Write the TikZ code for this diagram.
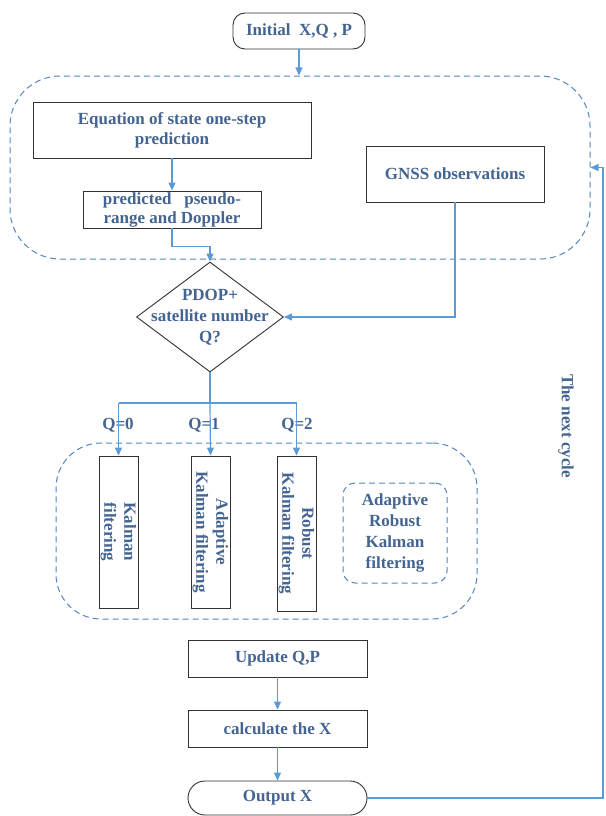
\documentclass[tikz,border=0pt]{standalone}
\usepackage{fontspec}
\setmainfont{Liberation Serif}
\usetikzlibrary{shapes.geometric,arrows.meta}
\definecolor{txt}{RGB}{68,100,145}
\definecolor{conn}{RGB}{91,155,213}
\definecolor{dashc}{RGB}{84,134,192}
\definecolor{bord}{RGB}{50,50,50}
\begin{document}
\begin{tikzpicture}[x=1pt,y=-1pt,
  every node/.style={font=\fontsize{17}{20}\selectfont\bfseries, text=txt, inner sep=0pt, align=center},
  box/.style={draw=bord, line width=0.9pt},
  dashreg/.style={draw=dashc, line width=1pt, dash pattern=on 6pt off 4pt},
  link/.style={draw=conn, line width=1.2pt},
  arr/.style={link, -{Triangle[length=8pt,width=7pt]}}]
\useasboundingbox (0,0) rectangle (605,816);
\fill[white] (0,0) rectangle (605,816);

% top
\node[box, rounded corners=12, minimum width=132, minimum height=36] (init) at (299,31) {Initial~~X,Q , P};
\node[dashreg, rounded corners=50, minimum width=580, minimum height=183] (big) at (300,167.5) {};
\node[box, minimum width=278, minimum height=56] (eq) at (172,130) {Equation of state one-step\\prediction};
\node[box, minimum width=178, minimum height=37, font=\fontsize{17}{19}\selectfont\bfseries] (pred) at (172,209.5) {predicted~~~pseudo-\\range and Doppler};
\node[box, minimum width=178, minimum height=56] (gnss) at (455,174) {GNSS observations};

% decision
\node[box, diamond, minimum width=147, minimum height=110,
  label={[font=\fontsize{17}{21}\selectfont\bfseries, align=center, text=txt]center:PDOP+\\satellite number\\Q?}] (dia) at (210,317) {};

% filters
\node[dashreg, rounded corners=45, minimum width=421, minimum height=176] (low) at (266.5,531) {};
\node[box, rotate=-90, minimum width=152, minimum height=39] (kal) at (118.5,532) {Kalman\\filtering};
\node[box, rotate=-90, minimum width=152, minimum height=39] (ada) at (210.5,532) {Adaptive\\Kalman filtering};
\node[box, rotate=-90, minimum width=155, minimum height=39] (rob) at (296.5,533.5) {Robust\\Kalman filtering};
\node[dashreg, rounded corners=12, minimum width=104, minimum height=100, font=\fontsize{17}{21}\selectfont\bfseries] (arkf) at (395,533) {Adaptive\\Robust\\Kalman\\filtering};

\node (q0) at (118,425) {Q=0};
\node (q1) at (204,425) {Q=1};
\node (q2) at (297,425) {Q=2};

% bottom
\node[box, minimum width=179, minimum height=37] (upd) at (277.5,658.5) {Update Q,P};
\node[box, minimum width=179, minimum height=37] (calc) at (277.5,728.5) {calculate the X};
\node[box, rounded corners=17, minimum width=179, minimum height=34] (out) at (277.5,798) {Output X};

\node[rotate=-90] (cyc) at (566,426) {The next cycle};

% connectors
\draw[arr] (init.south) -- (init.south |- big.north);
\draw[arr] (eq.south) -- (pred.north);
\draw[arr] (pred.south) -- ++(0,18) -| (dia.north);
\draw[arr] (gnss.south) |- (dia.east);
\coordinate (br) at (210,403);
\draw[link] (dia.south) -- (br);
\draw[link] (kal.west |- br) -- (rob.west |- br);
\draw[arr] (kal.west |- br) -- (kal.west);
\draw[arr] (br) -- (ada.west);
\draw[arr] (rob.west |- br) -- (rob.west);
\draw[arr] (upd.south) -- (calc.north);
\draw[arr] (calc.south) -- (out.north);
\coordinate (rc) at (603,798);
\draw[arr] (out.east) -- (rc) |- (big.east);
\end{tikzpicture}
\end{document}
